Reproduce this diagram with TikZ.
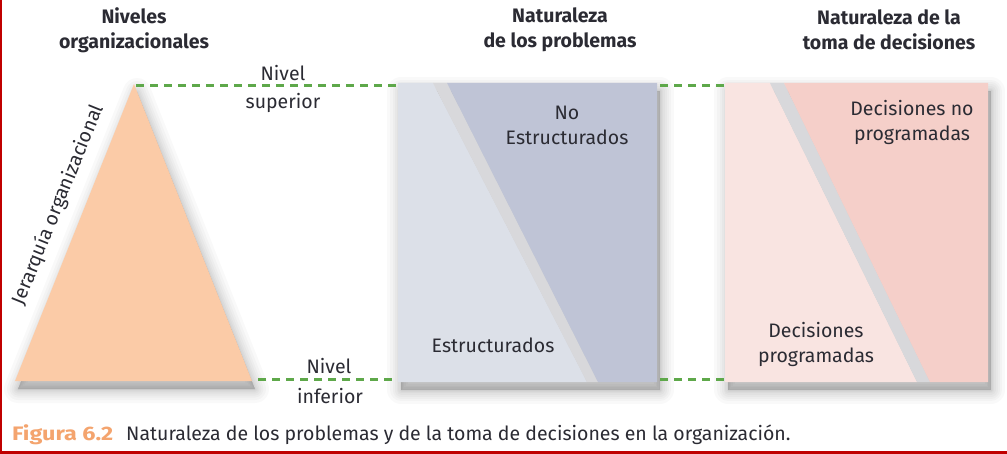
\documentclass[tikz,border=0pt]{standalone}
\usepackage{fontspec}
\setmainfont{Fira Sans}
\usetikzlibrary{calc}
\definecolor{peach}{HTML}{FBCBA7}
\definecolor{lightblue}{HTML}{DCE0E8}
\definecolor{darkblue}{HTML}{BFC4D6}
\definecolor{lightpink}{HTML}{F9E4E1}
\definecolor{darkpink}{HTML}{F5CFC9}
\definecolor{gapgray}{HTML}{D8D8DB}
\definecolor{dashgreen}{HTML}{5EA84A}
\definecolor{txt}{HTML}{2B2B33}
\definecolor{figorange}{HTML}{F4A46E}
\definecolor{frame}{HTML}{C00000}
\newcommand\triPath{(134,84) -- (252,381) -- (15,381) -- cycle}
\newcommand\panelA{(398,83) -- (657,83) -- (657,382) -- (398,382) -- cycle}
\newcommand\panelB{(725,83) -- (988,83) -- (988,382) -- (725,382) -- cycle}
\begin{document}
\begin{tikzpicture}[x=1pt,y=-1pt,
  lbl/.style={text=txt,font=\fontsize{19.5}{25}\selectfont,align=center,inner sep=0pt},
  ttl/.style={lbl,font=\fontsize{19.5}{25}\selectfont\bfseries},
  lvl/.style={draw=dashgreen,line width=3pt,dash pattern=on 7.5pt off 6.5pt},
  shd/.style={draw=black,fill=black,opacity=0.024,line join=round}]
\useasboundingbox (0,0) rectangle (1007,454);
\fill[white] (0,0) rectangle (1007,454);
% shadows
\foreach \w in {28,22,17,13,9,6,3,1}{
  \filldraw[shd,line width=\w pt,shift={(3,8)}] \triPath;
  \filldraw[shd,line width=\w pt,shift={(3,8)}] \panelA;
  \filldraw[shd,line width=\w pt,shift={(3,8)}] \panelB;
}
% triangle
\fill[peach] \triPath;
\coordinate (apex) at (136,86);
\coordinate (baseR) at (258,379);
% panel A (problems)
\fill[lightblue] (398,83) -- (433,83) -- (587,382) -- (398,382) -- cycle;
\fill[gapgray] (433,83) -- (447,83) -- (598,382) -- (587,382) -- cycle;
\fill[darkblue] (447,83) -- (657,83) -- (657,382) -- (598,382) -- cycle;
\coordinate (aTL) at (398,86);
\coordinate (aBL) at (398,379);
\coordinate (aTR) at (660,86);
\coordinate (aBR) at (660,379);
% panel B (decisions)
\fill[lightpink] (725,83) -- (770,83) -- (917,382) -- (725,382) -- cycle;
\fill[gapgray] (770,83) -- (784,83) -- (930,382) -- (917,382) -- cycle;
\fill[darkpink] (784,83) -- (988,83) -- (988,382) -- (930,382) -- cycle;
\coordinate (bTL) at (724,86);
\coordinate (bBL) at (724,379);
% dashed level lines
\draw[lvl] (apex) -- (aTL);
\draw[lvl] (baseR) -- (aBL);
\draw[lvl] (aTR) -- (bTL);
\draw[lvl] (aBR) -- (bBL);
% titles
\node[ttl] (t1) at (134,30) {Niveles\\organizacionales};
\node[ttl] (t2) at (560,30) {Naturaleza\\de los problemas};
\node[ttl] (t3) at (889,30) {Naturaleza de la\\toma de decisiones};
% level labels
\node[lbl] (ns1) at (283,73) {Nivel};
\node[lbl] (ns2) at (283,103) {superior};
\node[lbl] (ni1) at (329,366) {Nivel};
\node[lbl] (ni2) at (330,396) {inferior};
% panel labels
\node[lbl] (ne) at (567,125) {No\\Estructurados};
\node[lbl] (es) at (493,345) {Estructurados};
\node[lbl] (dn) at (912,122) {Decisiones no\\programadas};
\node[lbl] (dp) at (816,344) {Decisiones\\programadas};
% hierarchy
\node[lbl,rotate=68] (jer) at (58,205) {Jerarquía organizacional};
% caption
\node[lbl,anchor=west,text=figorange,font=\fontsize{19.5}{22}\selectfont\bfseries] (fig) at (12,435) {\scalebox{1.2}[1]{Figura 6.2}};
\node[lbl,anchor=west,font=\fontsize{19.5}{22}\selectfont] (cap) at (126,435) {Naturaleza de los problemas y de la toma de decisiones en la organización.};
% frame
\fill[frame] (0,0) rectangle (2,454);
\fill[frame] (0,451) rectangle (1007,454);
\end{tikzpicture}
\end{document}
